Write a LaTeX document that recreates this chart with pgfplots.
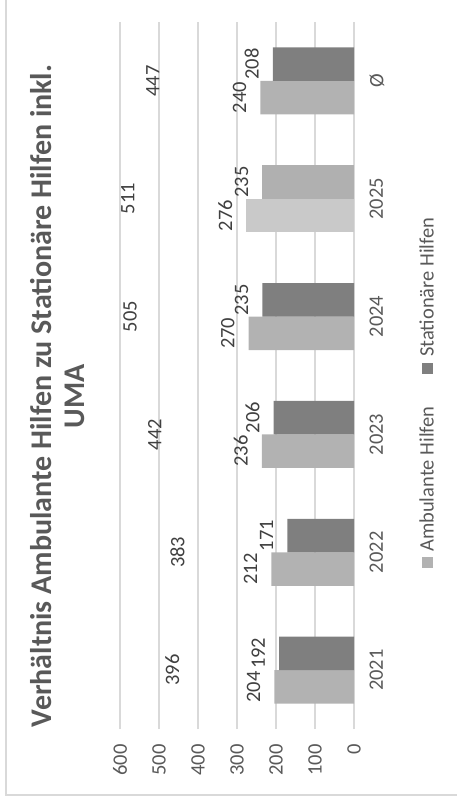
\documentclass[border=0pt]{standalone}
\usepackage{pgfplots}
\pgfplotsset{compat=1.18}
\usepackage{fontspec}
\setmainfont{Carlito}
\definecolor{amb}{HTML}{B2B2B2}
\definecolor{stat}{HTML}{7F7F7F}
\definecolor{ambhi}{HTML}{C9C9C9}
\definecolor{stathi}{HTML}{B0B0B0}
\definecolor{gridc}{HTML}{D9D9D9}
\definecolor{txt}{HTML}{595959}
\definecolor{lbl}{HTML}{404040}
\newcommand\lblfont{\fontsize{20.5}{24}\selectfont}
\begin{document}
\begin{tikzpicture}[x=1pt,y=1pt]
\path[use as bounding box] (0,0) rectangle (456,-805);
\draw[gridc, line width=1.3pt] (6,10) -- (6,-795) -- (470,-795);
\begin{axis}[
  at={(237pt,-375.5pt)}, anchor=center,
  scale only axis, width=234pt, height=707pt,
  xbar, bar width=33.5pt,
  xmin=0, xmax=600, ymin=-0.5, ymax=5.5,
  x dir=reverse,
  xtick={0,100,...,600},
  ytick={0,...,5},
  yticklabels={2021,2022,2023,2024,2025,Ø},
  yticklabel pos=right,
  xmajorgrids, grid style={gridc, line width=1.3pt},
  axis line style={draw=none},
  major tick length=0pt,
  /pgf/number format/assume math mode=true,
  ticklabel style={font=\lblfont, text=txt},
  xticklabel style={rotate=90, anchor=east},
  yticklabel style={rotate=90, anchor=north},
  xticklabel shift=12pt, yticklabel shift=12pt,
  barlbl/.style={nodes near coords, point meta=explicit symbolic,
    every node near coord/.append style={rotate=90, anchor=south, inner xsep=0pt, inner ysep=14pt, font=\lblfont, text=lbl}},
]
\addplot[fill=amb, draw=none, bar shift=-16.75pt, barlbl] coordinates {(204,0)[204] (212,1)[212] (236,2)[236] (270,3)[270] (240,5)[240]};
\addplot[fill=stat, draw=none, bar shift=16.75pt, barlbl] coordinates {(192,0)[192] (171,1)[171] (206,2)[206] (235,3)[235] (208,5)[208]};
\addplot[forget plot, fill=ambhi, draw=none, bar shift=-16.75pt, barlbl] coordinates {(276,4)[276]};
\addplot[forget plot, fill=stathi, draw=none, bar shift=16.75pt, barlbl] coordinates {(235,4)[235]};
\addplot[forget plot, draw=none, fill=none, bar shift=0pt, nodes near coords, point meta=explicit symbolic,
  every node near coord/.append style={rotate=90, anchor=south, inner xsep=0pt, inner ysep=20pt, font=\lblfont, text=lbl}]
  coordinates {(396,0)[396] (383,1)[383] (442,2)[442] (505,3)[505] (511,4)[511] (447,5)[447]};
\end{axis}
\node[rotate=90, align=center, font=\fontsize{30}{33}\selectfont\bfseries, text=txt] at (57.5,-396) {Verhältnis Ambulante Hilfen zu Stationäre Hilfen inkl.\\UMA};
% legend
\fill[amb] (422,-557) rectangle (433,-568);
\node[rotate=90, anchor=base west, inner sep=0pt, font=\lblfont, text=txt] at (433.5,-552) {Ambulante Hilfen};
\fill[stat] (422,-363) rectangle (433,-374);
\node[rotate=90, anchor=base west, inner sep=0pt, font=\lblfont, text=txt] at (433.5,-357) {Stationäre Hilfen};
\end{tikzpicture}
\end{document}
